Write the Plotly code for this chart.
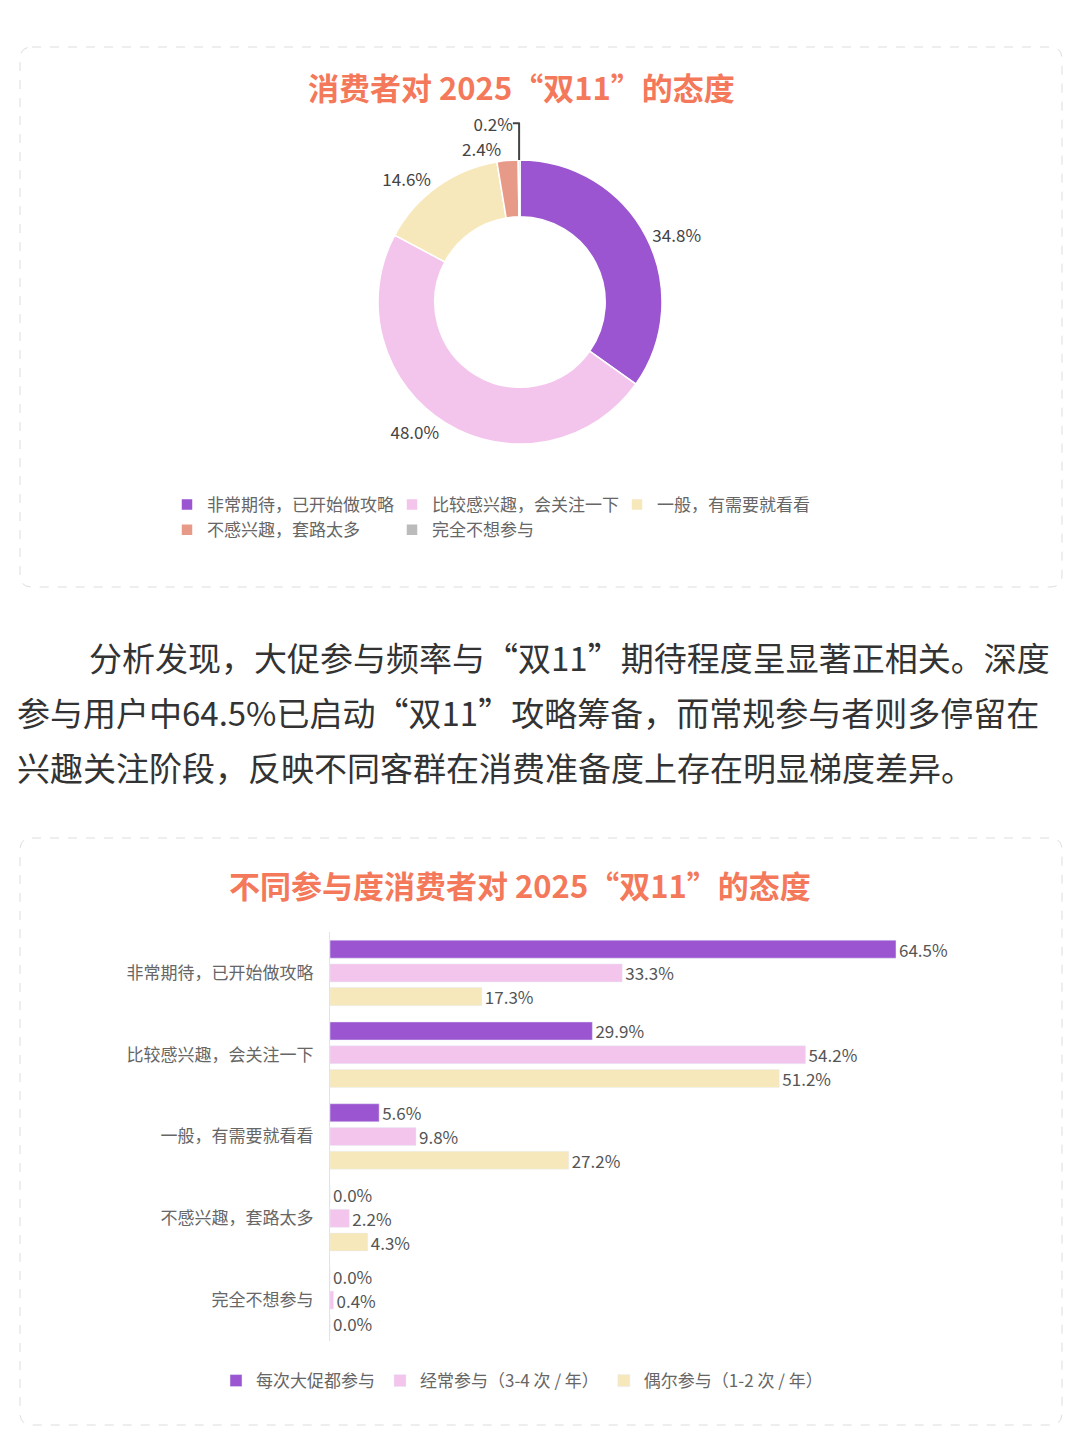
import plotly.graph_objects as go

# ---------------- data ----------------
pie_labels = ["非常期待，已开始做攻略", "比较感兴趣，会关注一下", "一般，有需要就看看",
              "不感兴趣，套路太多", "完全不想参与"]
pie_values = [34.8, 48.0, 14.6, 2.4, 0.2]
pie_colors = ["#9B55D0", "#F4C5EC", "#F7E8BB", "#E89A89", "#BBBBBB"]

bar_categories = ["非常期待，已开始做攻略", "比较感兴趣，会关注一下", "一般，有需要就看看",
                  "不感兴趣，套路太多", "完全不想参与"]
series_names = ["每次大促都参与", "经常参与（3-4 次 / 年）", "偶尔参与（1-2 次 / 年）"]
series_every = [64.5, 29.9, 5.6, 0.0, 0.0]
series_often = [33.3, 54.2, 9.8, 2.2, 0.4]
series_rare = [17.3, 51.2, 27.2, 4.3, 0.0]
series_colors = ["#9B55D0", "#F4C5EC", "#F7E8BB"]

title1 = "消费者对 2025“双11”的态度"
title2 = "不同参与度消费者对 2025“双11”的态度"
para_lines = [
    "分析发现，大促参与频率与“双11”期待程度呈显著正相关。深度",
    "参与用户中64.5%已启动“双11”攻略筹备，而常规参与者则多停留在",
    "兴趣关注阶段，反映不同客群在消费准备度上存在明显梯度差异。",
]

# ---------------- layout helpers ----------------
W, H = 1080, 1440
ML, MR = 100, 180
GW = W - ML - MR
OFF = 8  # page body margin
FONT = "Noto Sans CJK SC"


def px(x):
    return (x - OFF - ML) / GW


def py(y):
    return 1 - (y - OFF) / H


def rounded_box(x0, y0, x1, y1, r=12):
    a, b, c, d = px(x0), px(x1), py(y0), py(y1)  # left, right, top, bottom
    rx, ry = r / GW, r / H
    return (f"M {a + rx},{c} L {b - rx},{c} Q {b},{c} {b},{c - ry} "
            f"L {b},{d + ry} Q {b},{d} {b - rx},{d} L {a + rx},{d} "
            f"Q {a},{d} {a},{d + ry} L {a},{c - ry} Q {a},{c} {a + rx},{c} Z")


fig = go.Figure()

fig.add_trace(go.Pie(
    labels=pie_labels, values=pie_values, sort=False, direction="clockwise",
    rotation=0, hole=0.6,
    marker=dict(colors=pie_colors, line=dict(color="white", width=1.5)),
    textposition="outside", texttemplate="%{value:.1f}%",
    textfont=dict(size=17, color="#444444", family=FONT),
    domain=dict(x=[px(378), px(662)], y=[py(444), py(160)]),
    legend="legend2", showlegend=True, hoverinfo="label+percent",
))

bar_series = [series_every, series_often, series_rare]
for name, vals, col in zip(series_names, bar_series, series_colors):
    fig.add_trace(go.Bar(
        y=bar_categories, x=vals, orientation="h", name=name,
        marker=dict(color=col), text=[f"{v:.1f}%" for v in vals],
        textposition="outside", cliponaxis=False, constraintext="none",
        textfont=dict(size=17, color="#555555", family=FONT),
        legend="legend",
    ))

shapes = [
    dict(type="path", xref="paper", yref="paper", path=rounded_box(20, 47, 1062, 587),
         line=dict(color="#DDDDDD", width=1, dash="dash"), layer="below"),
    dict(type="path", xref="paper", yref="paper", path=rounded_box(20, 838, 1062, 1425),
         line=dict(color="#DDDDDD", width=1, dash="dash"), layer="below"),
]

annotations = [
    dict(text=f"<b>{title1}</b>", x=px(521), y=py(86), xref="paper", yref="paper",
         showarrow=False, xanchor="center", yanchor="middle",
         font=dict(size=31, color="#F4795B", family=FONT)),
    dict(text=f"<b>{title2}</b>", x=px(520), y=py(885), xref="paper", yref="paper",
         showarrow=False, xanchor="center", yanchor="middle",
         font=dict(size=31, color="#F4795B", family=FONT)),
]
line_x = [87, 15, 15]
line_y = [657, 712, 767]
for t, lx, ly in zip(para_lines, line_x, line_y):
    annotations.append(dict(text=t, x=px(lx), y=py(ly), xref="paper", yref="paper",
                            showarrow=False, xanchor="left", yanchor="middle",
                            font=dict(size=33, color="#333333", family=FONT)))

fig.update_layout(
    width=W, height=H,
    margin=dict(l=ML, r=MR, t=0, b=0, autoexpand=False),
    paper_bgcolor="white", plot_bgcolor="white",
    font=dict(family=FONT, color="#666666"),
    barmode="group", bargap=0.13, bargroupgap=0.24,
    xaxis=dict(domain=[px(330), 1], range=[0, (ML + GW + OFF - 330) / 8.775],
               showgrid=False, zeroline=False, showticklabels=False, showline=False),
    yaxis=dict(domain=[py(1341), py(932)], autorange="reversed", showgrid=False,
               showline=True, linecolor="#E3E3E3", linewidth=1, ticks="",
               ticklabelstandoff=12, tickfont=dict(size=17, color="#666666", family=FONT)),
    legend=dict(orientation="h", x=px(522), xanchor="center", y=py(1381), yanchor="middle",
                font=dict(size=17, color="#666666", family=FONT), bgcolor="rgba(0,0,0,0)"),
    legend2=dict(orientation="h", x=px(167), xanchor="left", y=py(487), yanchor="top",
                 entrywidth=180, tracegroupgap=0,
                 font=dict(size=17, color="#666666", family=FONT), bgcolor="rgba(0,0,0,0)"),
    shapes=shapes, annotations=annotations,
    showlegend=True,
)

fig.write_html("out.html")
